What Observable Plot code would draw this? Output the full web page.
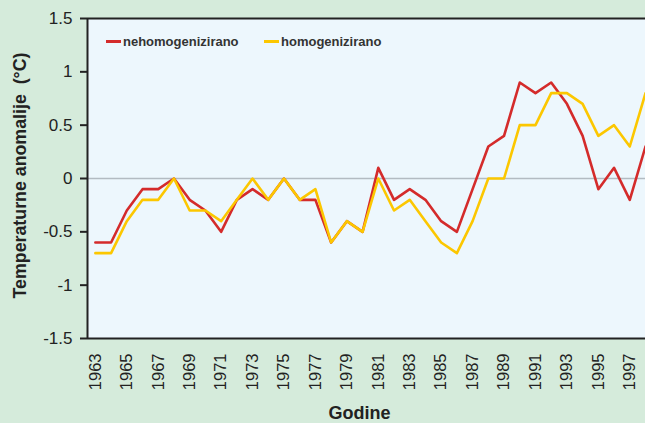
<!DOCTYPE html>
<html>
<head>
<meta charset="utf-8">
<script src="https://cdn.jsdelivr.net/npm/d3@7"></script>
<script src="https://cdn.jsdelivr.net/npm/@observablehq/plot@0.6"></script>
<style>
  html, body { margin: 0; padding: 0; background: #d5ebdb; }
  #wrap { position: relative; width: 645px; height: 423px; overflow: hidden; font-family: "Liberation Sans", Arial, sans-serif; }
  .leg { position: absolute; top: 34px; font-size: 13px; font-weight: bold; color: #333; display: flex; align-items: center; white-space: nowrap; }
  .sw { display: inline-block; width: 15px; height: 3px; margin-right: 2px; }
</style>
</head>
<body>
<div id="wrap"></div>
<script>
const years = d3.range(1963, 1999);
const nehomogenizirano = [-0.6, -0.6, -0.3, -0.1, -0.1, 0.0, -0.2, -0.3, -0.5, -0.2, -0.1, -0.2, 0.0, -0.2, -0.2, -0.6, -0.4, -0.5, 0.1, -0.2, -0.1, -0.2, -0.4, -0.5, -0.1, 0.3, 0.4, 0.9, 0.8, 0.9, 0.7, 0.4, -0.1, 0.1, -0.2, 0.3];
const homogenizirano   = [-0.7, -0.7, -0.4, -0.2, -0.2, 0.0, -0.3, -0.3, -0.4, -0.2, 0.0, -0.2, 0.0, -0.2, -0.1, -0.6, -0.4, -0.5, 0.0, -0.3, -0.2, -0.4, -0.6, -0.7, -0.4, 0.0, 0.0, 0.5, 0.5, 0.8, 0.8, 0.7, 0.4, 0.5, 0.3, 0.8];
const seriesNames = ["nehomogenizirano", "homogenizirano"];
const seriesColors = ["#d42b2b", "#fcc700"];
const xTickYears = d3.range(1963, 1998, 2);
const yTicks = [-1.5, -1, -0.5, 0, 0.5, 1, 1.5];
const yTitle = "Temperaturne anomalije  (°C)";
const xTitle = "Godine";

const red = years.map((y, i) => ({year: y, value: nehomogenizirano[i]}));
const yel = years.map((y, i) => ({year: y, value: homogenizirano[i]}));

const font = "'Liberation Sans', Arial, sans-serif";

const chart = Plot.plot({
  width: 645,
  height: 423,
  marginLeft: 87,
  marginTop: 18,
  marginBottom: 85,
  marginRight: 0,
  style: { background: "transparent", fontFamily: font, color: "#222" },
  x: { domain: [1962.5, 1998], axis: null },
  y: { domain: [-1.5, 1.5], axis: null },
  marks: [
    Plot.frame({ fill: "#edf7fd", stroke: null }),
    Plot.ruleY([0], { stroke: "#b3bbc2", strokeWidth: 1.5 }),
    Plot.line(red, { x: "year", y: "value", stroke: seriesColors[0], strokeWidth: 2.6 }),
    Plot.line(yel, { x: "year", y: "value", stroke: seriesColors[1], strokeWidth: 2.6 }),
    Plot.ruleY([-1.5, 1.5], { stroke: "#222", strokeWidth: 2 }),
    Plot.ruleX([1962.5], { stroke: "#222", strokeWidth: 2 }),
    Plot.axisY(yTicks, {
      label: null,
      tickSize: 7, tickPadding: 8, tickFormat: d => String(d),
      fontSize: 17, stroke: "#222", strokeWidth: 2, fill: "#222"
    }),
    Plot.text(xTickYears, {
      x: d => d, frameAnchor: "bottom", text: d => String(d),
      rotate: -90, textAnchor: "end", lineAnchor: "middle",
      dy: 15, fontSize: 16.5, fill: "#222"
    }),
    Plot.text([yTitle], {
      frameAnchor: "left", text: d => d, rotate: -90, dx: -67, dy: -3,
      textAnchor: "middle", lineAnchor: "middle",
      fontSize: 17.8, fontWeight: "bold", fill: "#222"
    }),
    Plot.text([xTitle], {
      frameAnchor: "bottom", text: d => d, dy: 75, dx: -7,
      textAnchor: "middle", lineAnchor: "middle",
      fontSize: 18, fontWeight: "bold", fill: "#222"
    })
  ]
});

const wrap = document.getElementById("wrap");
wrap.appendChild(chart);

const legX = [106, 264];
seriesNames.forEach((name, i) => {
  const d = document.createElement("div");
  d.className = "leg";
  d.style.left = legX[i] + "px";
  d.innerHTML = `<span class="sw" style="background:${seriesColors[i]}"></span>${name}`;
  wrap.appendChild(d);
});
</script>
</body>
</html>
